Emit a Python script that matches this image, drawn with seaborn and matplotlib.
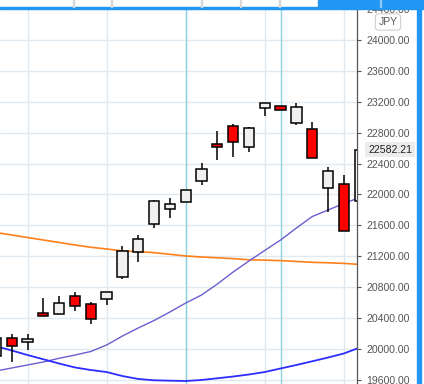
import matplotlib
matplotlib.use("Agg")
import matplotlib.pyplot as plt
from matplotlib.patches import Rectangle
import seaborn as sns
import numpy as np
import pandas as pd

# ---- data ----
opens  = [19909, 20138, 20087, 20466, 20449, 20686, 20582, 20643, 20928, 21252, 21614, 21808,
          21907, 22171, 22650, 22883, 22611, 23116, 23146, 22929, 22844, 22080, 22132, 21916]
highs  = [20142, 20194, 20194, 20660, 20686, 20738, 20608, 20734, 21333, 21476, 21929, 21951,
          22058, 22404, 22822, 22913, 22874, 23184, 23150, 23181, 22942, 22352, 22249, 22582.21]
lows   = [19909, 19828, 19987, 20423, 20449, 20496, 20327, 20573, 20910, 21130, 21570, 21700,
          21907, 22119, 22450, 22489, 22554, 23020, 23090, 22896, 22469, 21777, 21524, 21916]
closes = [20142, 20035, 20126, 20423, 20592, 20557, 20384, 20734, 21269, 21420, 21912, 21873,
          22058, 22326, 22611, 22683, 22857, 23181, 23090, 23129, 22469, 22308, 21524, 22582.21]

ma_short = [19715, 19754, 19793, 19832, 19880, 19922, 19968, 20052, 20168, 20272, 20369, 20479,
            20595, 20699, 20841, 20997, 21139, 21276, 21411, 21566, 21715, 21799, 21884, 21961]
ma_mid   = [20036, 19981, 19922, 19867, 19812, 19761, 19728, 19702, 19650, 19612, 19595, 19590,
            19586, 19599, 19621, 19644, 19670, 19702, 19748, 19793, 19841, 19890, 19942, 20019]
ma_long  = [21508, 21476, 21443, 21411, 21379, 21346, 21317, 21295, 21269, 21261, 21247, 21226,
            21204, 21191, 21181, 21170, 21155, 21150, 21144, 21133, 21122, 21116, 21108, 21095]

y_ticks = [19600, 20000, 20400, 20800, 21200, 21600, 22000, 22400, 22800, 23200, 23600, 24000, 24400]
last_price = 22582.21
currency = "JPY"

idx = np.arange(len(opens))
df = pd.DataFrame({"i": idx, "short": ma_short, "mid": ma_mid, "long": ma_long})

sns.set_style("white")
plt.rcParams["font.family"] = ["Liberation Sans", "DejaVu Sans"]

W, H = 424, 384
fig = plt.figure(figsize=(W / 100, H / 100), dpi=100)
ax = fig.add_axes([0, 0, 357 / W, (H - 8) / H])

# grid
grid_c = "#e1e9f0"
for v in y_ticks:
    ax.axhline(v, color=grid_c, lw=1.0, zorder=0)
for g in [2, 7, 12, 17, 22]:
    ax.axvline(g, color=grid_c, lw=1.0, zorder=0)
for g in [12, 18]:
    ax.axvline(g, color="#86d2df", lw=1.0, zorder=0.5)

# moving averages
sns.lineplot(data=df, x="i", y="long", ax=ax, color="#ff7f1a", lw=1.2, zorder=2)
sns.lineplot(data=df, x="i", y="short", ax=ax, color="#6a5fcf", lw=1.0, zorder=2)
sns.lineplot(data=df, x="i", y="mid", ax=ax, color="#2d2dff", lw=1.3, zorder=2)

# candles
bw = 0.65
for i, (o, h, l, c) in enumerate(zip(opens, highs, lows, closes)):
    up = c >= o
    ax.vlines(i, l, h, color="black", lw=1.1, zorder=3)
    lo, hi = min(o, c), max(o, c)
    ax.bar(i, max(hi - lo, 1), bottom=lo, width=bw,
           color="#f0f0f0" if up else "#ff0000", edgecolor="black", lw=1.1, zorder=4)

ax.set_xlim(0.26, 22.83)
ax.set_ylim(19547, 24414)
ax.set_xlabel("")
ax.set_ylabel("")
ax.set_xticks([])
ax.yaxis.tick_right()
ax.set_yticks(y_ticks)
ax.set_yticklabels([f"{v:.2f}" for v in y_ticks])
ax.tick_params(axis="y", length=3, width=0.8, color="#555555", pad=3.5,
               labelsize=7.6, labelcolor="#555555")
for s in ["left", "top", "bottom"]:
    ax.spines[s].set_visible(False)
ax.spines["right"].set_color("#555555")
ax.spines["right"].set_linewidth(0.9)

# last price label
ax.annotate(f"{last_price:.2f}", xy=(1.0, last_price), xycoords=("axes fraction", "data"),
            xytext=(8, 0), textcoords="offset points", ha="left", va="center",
            fontsize=7.6, color="#222222", zorder=10,
            bbox=dict(boxstyle="square,pad=0.25", fc="#ececec", ec="none"))

# currency badge
fig.text(388 / W, 1 - 22 / H, currency, ha="center", va="center", fontsize=7.5, color="#555555",
         bbox=dict(boxstyle="round,pad=0.3,rounding_size=0.3", fc="white", ec="#cfcfcf", lw=0.8))

# frame decorations
blue = "#2196f3"
fig.add_artist(Rectangle((0, 1 - 9 / H), 1, 2.4 / H, transform=fig.transFigure, color=blue, zorder=20))
fig.add_artist(Rectangle((318 / W, 1 - 6.6 / H), (W - 318) / W, 6.6 / H, transform=fig.transFigure,
                         color=blue, zorder=20))
fig.add_artist(Rectangle((0, 1 - 6.6 / H), 318 / W, 6.6 / H, transform=fig.transFigure,
                         color="white", zorder=19))
for sx in [72.7, 111, 201, 240, 279]:
    fig.add_artist(Rectangle((sx / W, 1 - 6.6 / H), 1 / W, 6.6 / H, transform=fig.transFigure,
                             color="#d8d8d8", zorder=21))
fig.add_artist(Rectangle((380 / W, 1 - 6.6 / H), 1 / W, 6.6 / H, transform=fig.transFigure,
                         color="#8cc8f8", zorder=21))
fig.add_artist(Rectangle((417 / W, 0), 3.5 / W, (H - 7) / H, transform=fig.transFigure,
                         color=blue, zorder=20))

fig.savefig("out.png", dpi=100)
